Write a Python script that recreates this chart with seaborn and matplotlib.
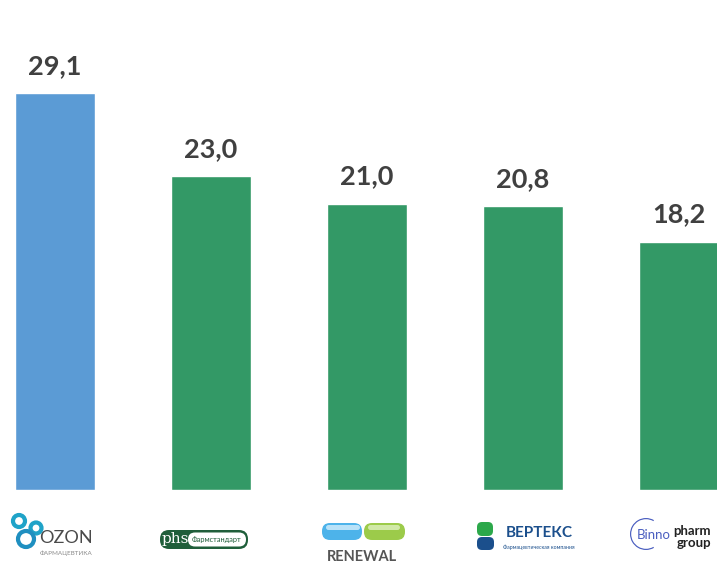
import matplotlib
matplotlib.use("Agg")
import matplotlib.pyplot as plt
import matplotlib.transforms as mtransforms
from matplotlib.patches import Circle, FancyBboxPatch, Wedge
import seaborn as sns
import pandas as pd

# ---- data ----
companies = ["OZON", "Фармстандарт", "RENEWAL", "ВЕРТЕКС", "Binnopharm group"]
values = [29.1, 23.0, 21.0, 20.8, 18.2]
bar_colors = ["#5B9BD5", "#339966", "#339966", "#339966", "#339966"]

sns.set_theme(style="white")
plt.rcParams["font.family"] = ["Lato", "DejaVu Sans"]

W, H = 717, 566
fig = plt.figure(figsize=(W / 100, H / 100), dpi=100)
ax = fig.add_axes([0, 76 / H, 1, 490 / H])

df = pd.DataFrame({"company": companies, "value": values})
sns.barplot(data=df, x="company", y="value", hue="company",
            palette=bar_colors, width=0.513, legend=False, ax=ax,
            saturation=1)

ax.set_xlim(-0.3526, 4.2436)
ax.set_ylim(0, 35.92)
for c in ax.containers:
    ax.bar_label(c, fmt=lambda v: f"{v:.1f}".replace(".", ","),
                 padding=11, fontsize=19.5, fontweight="bold", color="#404040")

ax.set_xticks(range(len(companies)))
ax.set_xticklabels([""] * len(companies))
ax.set_yticks([])
ax.set_xlabel("")
ax.set_ylabel("")
for s in ax.spines.values():
    s.set_visible(False)
ax.tick_params(length=0)

# ---- logos drawn in pixel coordinates (top-left origin) ----
T = mtransforms.Affine2D().scale(1, -1).translate(0, H)

def txt(x, y, s, **kw):
    fig.text(x, y, s, transform=T, ha=kw.pop("ha", "center"),
             va=kw.pop("va", "center"), **kw)

def rbox(x0, y0, x1, y1, fc, ec=None, lw=0, r=6):
    p = FancyBboxPatch((x0, H - y1), x1 - x0, y1 - y0,
                       boxstyle=f"round,pad=0,rounding_size={r}",
                       fc=fc, ec=ec if ec else fc, lw=lw, transform=None)
    fig.add_artist(p)

def ring(x, y, r, col, lw=3.0):
    fig.add_artist(Circle((x, H - y), r, fc="white", ec=col, lw=lw,
                          transform=None))

# OZON
ring(19, 521, 6, "#1FA3C8")
ring(36, 528, 5.5, "#1FA3C8")
ring(26, 539, 8, "#1F8FC0")
txt(66, 538, "OZON", fontsize=13, color="#4a4a4a")
txt(66, 553, "ФАРМАЦЕВТИКА", fontsize=4.5, color="#8a8a8a")

# Pharmstandard
rbox(160, 530, 248, 549, "#1F5E3A", r=9)
rbox(188, 532.5, 246, 546.5, "white", r=7)
txt(175, 539, "phs", fontsize=11, color="white", family=["DejaVu Serif"])
txt(217, 539.5, "Фармстандарт", fontsize=5.3, color="#1F5E3A")

# RENEWAL
rbox(322, 523, 362, 540, "#4DB3EA", r=8)
rbox(364, 523, 405, 540, "#9CCB4A", r=8)
rbox(326, 525, 360, 530, "#B9E2F8", r=2.5)
rbox(368, 525, 400, 530, "#D1E9A8", r=2.5)
txt(362, 557, "RENEWAL", fontsize=10.5, fontweight="bold", color="#555555")

# ВЕРТЕКС
rbox(477, 522, 493, 536, "#2CA84A", r=5)
rbox(477, 537, 494, 550, "#1B4F8C", r=5)
txt(539, 533, "ВЕРТЕКС", fontsize=11, fontweight="bold", color="#1B4F8C")
txt(539, 547, "Фармацевтическая компания", fontsize=3.8, color="#1B4F8C")

# Binnopharm
fig.add_artist(Wedge((646, H - 534), 16, 60, 300, width=1.2,
                     fc="#4B5FC0", ec="none", transform=None))
txt(654, 535, "Binno", fontsize=9.5, color="#4B5FC0")
txt(692, 531, "pharm", fontsize=9.5, fontweight="bold", color="#222222")
txt(694, 543, "group", fontsize=9.5, fontweight="bold", color="#222222")

fig.savefig("out.png", dpi=100)
